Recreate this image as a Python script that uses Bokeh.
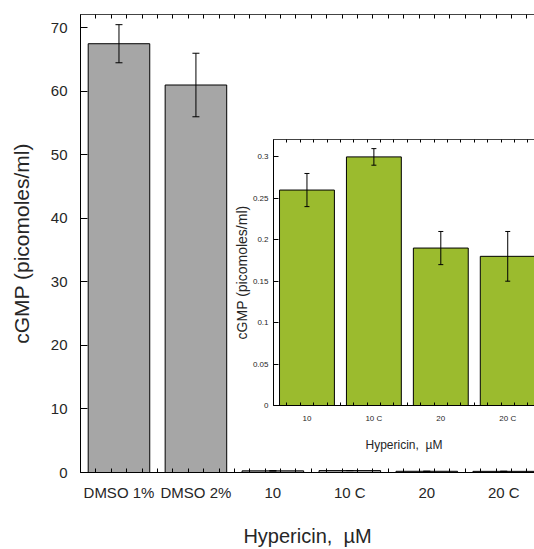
from bokeh.plotting import figure
from bokeh.models import (ColumnDataSource, Whisker, TeeHead, FixedTicker, Range1d,
                          LinearAxis, GridBox)
from bokeh.embed import file_html
from bokeh.resources import INLINE

# ---------------- data ----------------
categories = ["DMSO 1%", "DMSO 2%", "10", "10 C", "20", "20 C"]
main_values = [67.5, 61.0, 0.26, 0.30, 0.19, 0.18]
main_err = [3.0, 5.0, 0.02, 0.01, 0.02, 0.03]

inset_categories = ["10", "10 C", "20", "20 C"]
inset_values = [0.26, 0.30, 0.19, 0.18]
inset_err = [0.02, 0.01, 0.02, 0.03]

main_yticks = [0, 10, 20, 30, 40, 50, 60, 70]
inset_yticks = [0, 0.05, 0.1, 0.15, 0.2, 0.25, 0.3]
inset_ytick_labels = ["0", "0.05", "0.1", "0.15", "0.2", "0.25", "0.3"]

x_label = "Hypericin,\u00a0 \u00b5M"
y_label = "cGMP (picomoles/ml)"

FONT = "Liberation Sans"
TXT = "#262626"
GRAY = "#a6a6a6"
GREEN = "#9bbb2e"


def style_cat_axis(ax, n, labels, font_size, standoff, show_labels=True):
    centers = [i + 0.5 for i in range(n)]
    minors = [k * 0.2 for k in range(int(n * 5) + 1)]
    if show_labels:
        ax.ticker = FixedTicker(ticks=centers, minor_ticks=minors)
        ax.major_label_overrides = {c: lab for c, lab in zip(centers, labels)}
        ax.major_label_text_font = FONT
        ax.major_label_text_font_size = font_size
        ax.major_label_text_color = TXT
        ax.major_label_standoff = standoff
    else:
        ax.ticker = FixedTicker(ticks=[], minor_ticks=minors)
        ax.major_label_standoff = 0
    ax.major_tick_in = 0
    ax.major_tick_out = 0
    ax.minor_tick_in = 4
    ax.minor_tick_out = 0
    ax.axis_line_color = "black"
    ax.minor_tick_line_color = "black"


# ---------------- main figure ----------------
n_main = len(categories)
x_main = [i + 0.5 for i in range(n_main)]
p = figure(width=534, height=549, output_backend="svg", toolbar_location=None,
           x_range=Range1d(0, 5.9), y_range=Range1d(0, 72.1),
           min_border_left=80, min_border_top=14, min_border_right=0, min_border_bottom=77)
p.frame_align = False
p.outline_line_color = None
p.grid.visible = False
p.background_fill_color = "white"
p.border_fill_color = "white"

p.vbar(x=x_main, top=main_values, width=0.8, fill_color=GRAY, line_color="black", line_width=1)
src_main = ColumnDataSource(dict(
    x=x_main,
    lower=[v - e for v, e in zip(main_values, main_err)],
    upper=[v + e for v, e in zip(main_values, main_err)],
))
p.add_layout(Whisker(base="x", lower="lower", upper="upper", source=src_main,
                     level="overlay", line_color="black", line_width=1,
                     upper_head=TeeHead(size=7, line_color="black"),
                     lower_head=TeeHead(size=7, line_color="black")))

xa = p.xaxis[0]
style_cat_axis(xa, n_main, categories, "15px", 11)
xa.axis_label = x_label
xa.axis_label_text_font = FONT
xa.axis_label_text_font_size = "20px"
xa.axis_label_text_font_style = "normal"
xa.axis_label_text_color = TXT
xa.axis_label_standoff = 21

top_ax = LinearAxis()
style_cat_axis(top_ax, n_main, categories, "0px", 0, show_labels=False)
top_ax.axis_line_color = "#444444"
p.add_layout(top_ax, "above")

ya = p.yaxis[0]
ya.ticker = FixedTicker(ticks=main_yticks, minor_ticks=[])
ya.major_tick_in = 7
ya.major_tick_out = 0
ya.axis_line_color = "black"
ya.major_label_text_font = FONT
ya.major_label_text_font_size = "15px"
ya.major_label_text_color = TXT
ya.major_label_standoff = 13
ya.axis_label = y_label
ya.axis_label_text_font = FONT
ya.axis_label_text_font_size = "21px"
ya.axis_label_text_font_style = "normal"
ya.axis_label_text_color = TXT
ya.axis_label_standoff = 15

# ---------------- inset figure ----------------
n_in = len(inset_categories)
x_in = [i + 0.5 for i in range(n_in)]
q = figure(width=307, height=322, output_backend="svg", toolbar_location=None,
           x_range=Range1d(0, 3.9), y_range=Range1d(0, 0.321),
           min_border_left=46, min_border_top=6, min_border_right=0, min_border_bottom=50,
           margin=(133, 0, 0, 227))
q.frame_align = False
q.outline_line_color = None
q.grid.visible = False
q.background_fill_alpha = 0
q.border_fill_alpha = 0

q.vbar(x=x_in, top=inset_values, width=0.82, fill_color=GREEN, line_color="black", line_width=1)
src_in = ColumnDataSource(dict(
    x=x_in,
    lower=[v - e for v, e in zip(inset_values, inset_err)],
    upper=[v + e for v, e in zip(inset_values, inset_err)],
))
q.add_layout(Whisker(base="x", lower="lower", upper="upper", source=src_in,
                     level="overlay", line_color="black", line_width=1,
                     upper_head=TeeHead(size=5, line_color="black"),
                     lower_head=TeeHead(size=5, line_color="black")))

qx = q.xaxis[0]
style_cat_axis(qx, n_in, inset_categories, "8px", 8)
qx.minor_tick_in = 3
qx.axis_label = x_label
qx.axis_label_text_font = FONT
qx.axis_label_text_font_size = "12px"
qx.axis_label_text_font_style = "normal"
qx.axis_label_text_color = TXT
qx.axis_label_standoff = 12

qtop = LinearAxis()
style_cat_axis(qtop, n_in, inset_categories, "0px", 0, show_labels=False)
qtop.minor_tick_in = 3
qtop.axis_line_color = "#444444"
q.add_layout(qtop, "above")

qy = q.yaxis[0]
qy.ticker = FixedTicker(ticks=inset_yticks, minor_ticks=[])
qy.major_label_overrides = {t: lab for t, lab in zip(inset_yticks, inset_ytick_labels)}
qy.major_tick_in = 5
qy.major_tick_out = 0
qy.axis_line_color = "black"
qy.major_label_text_font = FONT
qy.major_label_text_font_size = "8px"
qy.major_label_text_color = TXT
qy.major_label_standoff = 5
qy.axis_label = y_label
qy.axis_label_text_font = FONT
qy.axis_label_text_font_size = "14px"
qy.axis_label_text_font_style = "normal"
qy.axis_label_text_color = TXT
qy.axis_label_standoff = 0

layout = GridBox(children=[(p, 0, 0), (q, 0, 0)])

open("out.html", "w").write(file_html(layout, INLINE))
